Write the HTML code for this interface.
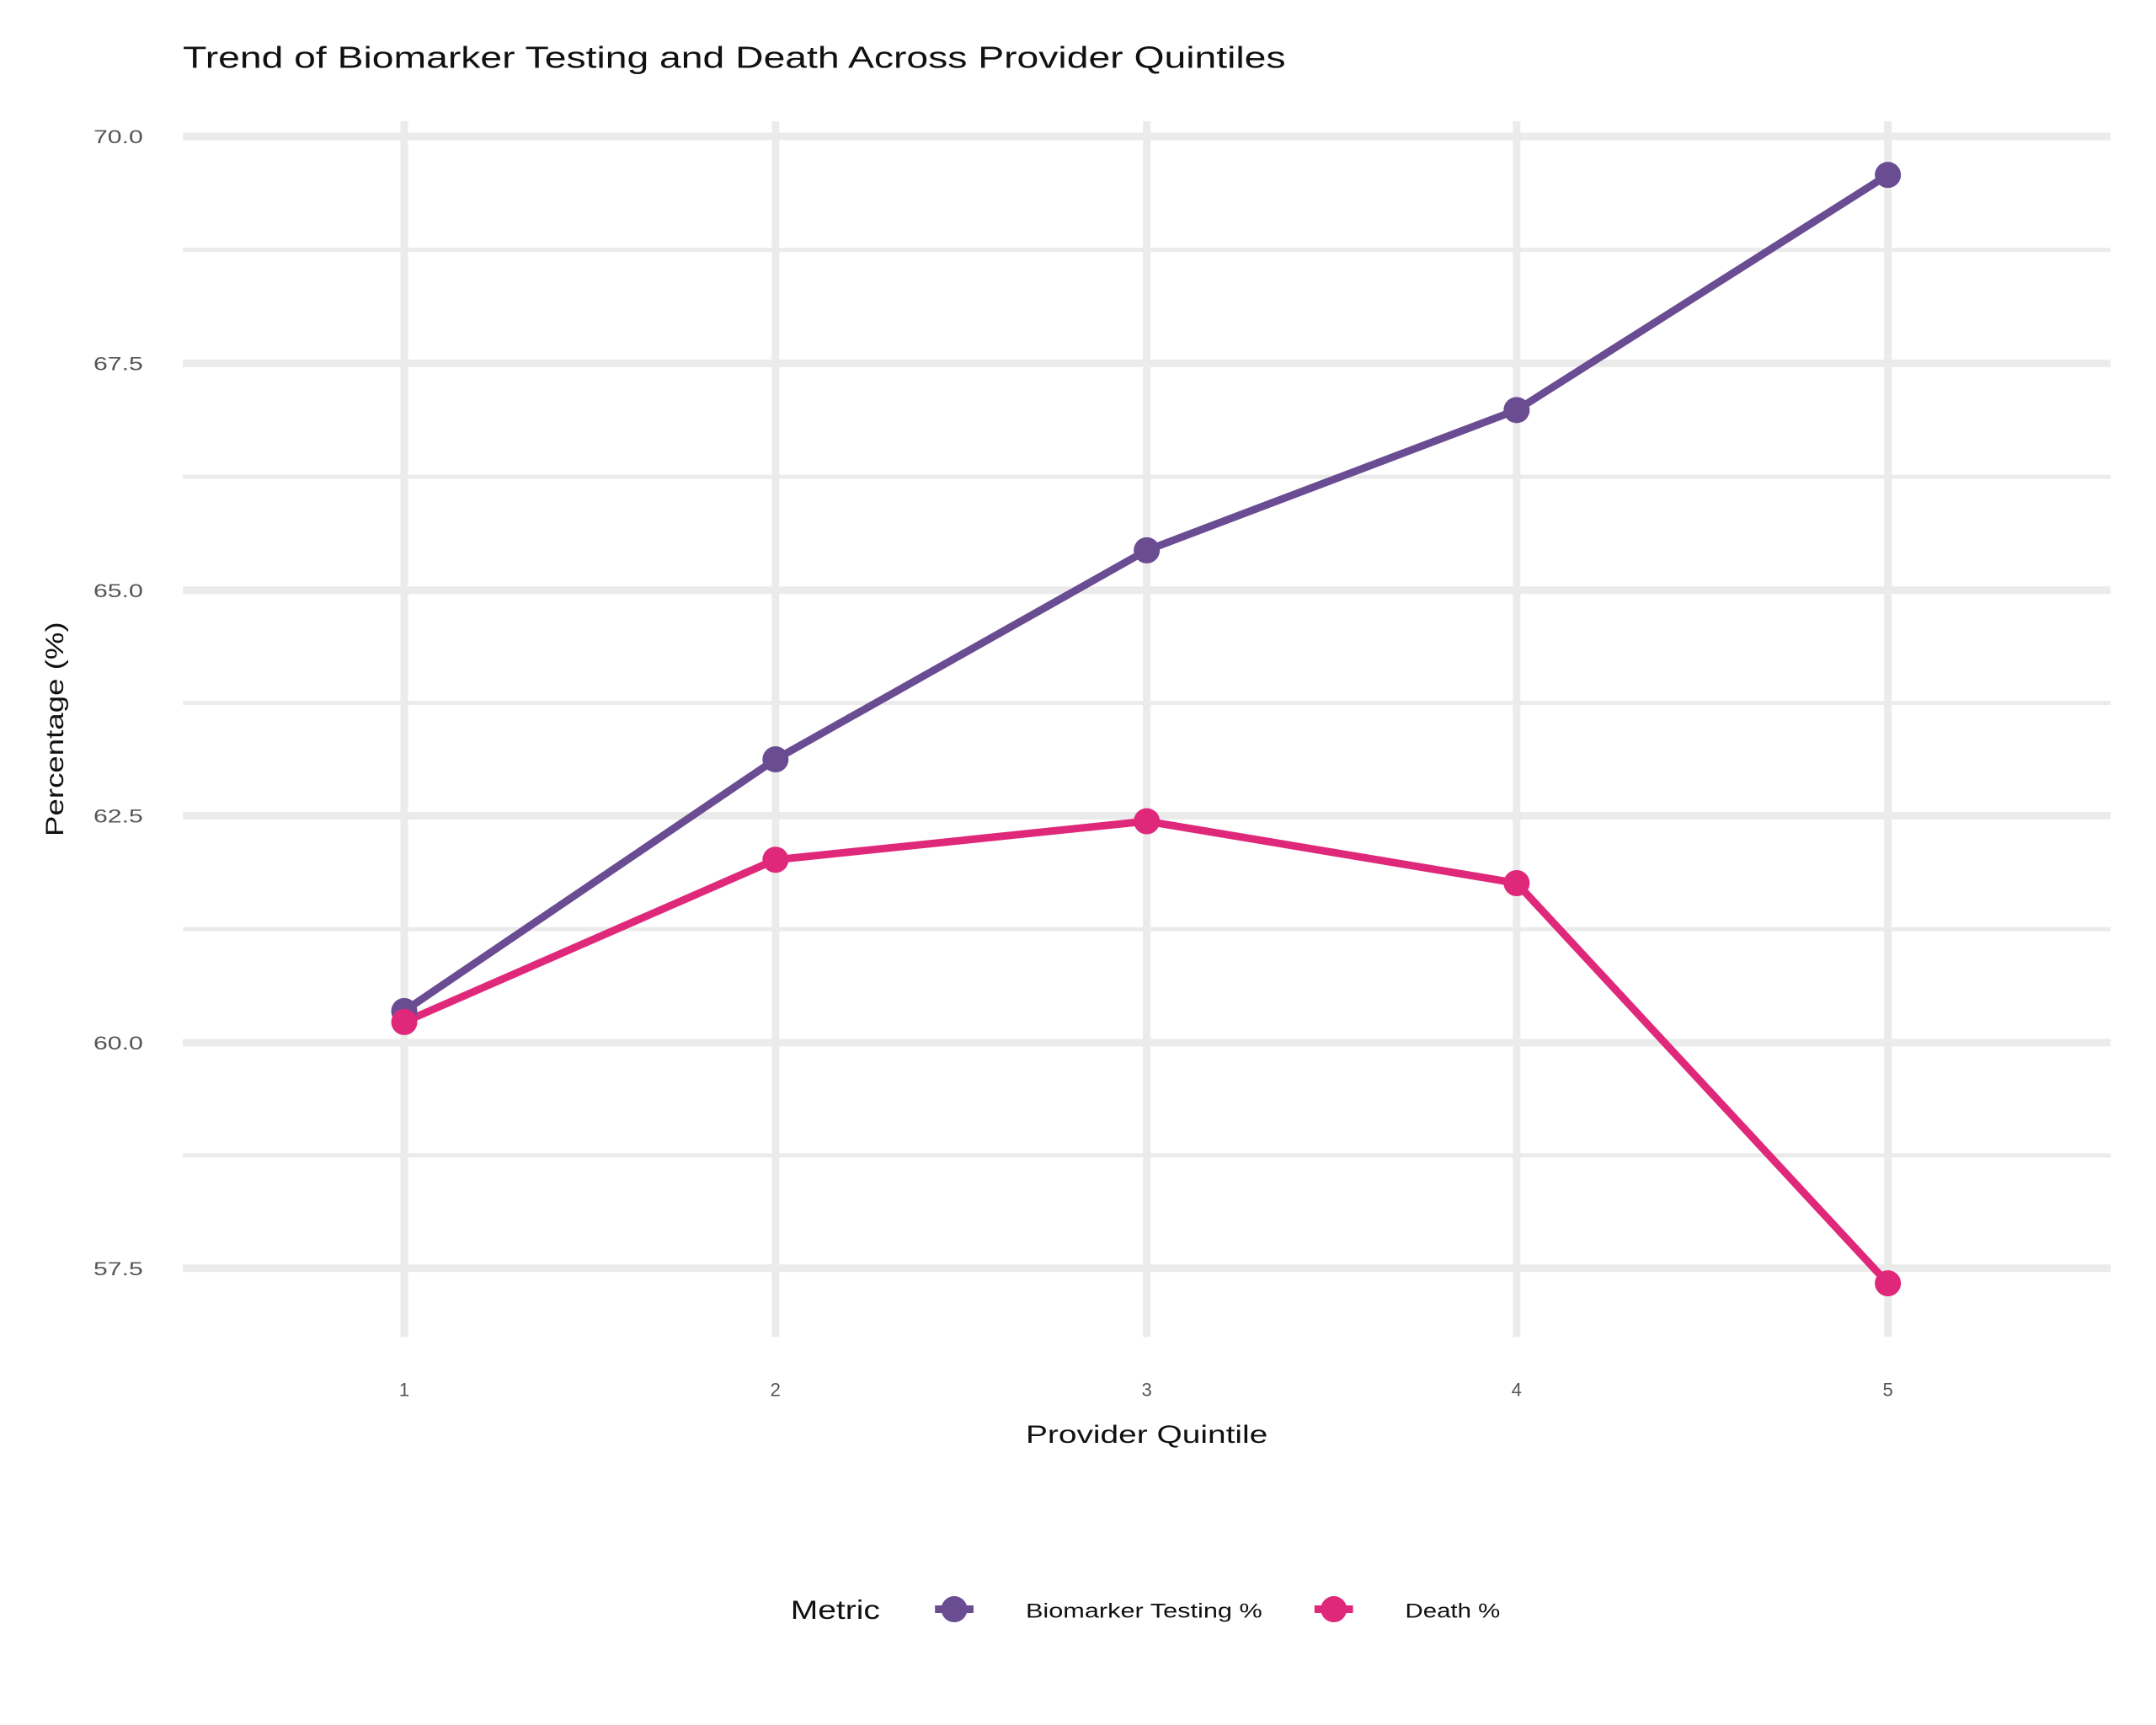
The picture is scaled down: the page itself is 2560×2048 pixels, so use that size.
<!DOCTYPE html>
<html><head><meta charset="utf-8"><style>html,body{margin:0;padding:0;background:#fff}svg{display:block}</style></head>
<body>
<svg width="2560" height="2048" viewBox="0 0 1568 1254" xmlns="http://www.w3.org/2000/svg" font-family="Liberation Sans, sans-serif">
<rect width="1568" height="1254" fill="#fff"/>
<text x="133" y="49" font-size="22" fill="#111" textLength="802" lengthAdjust="spacingAndGlyphs">Trend of Biomarker Testing and Death Across Provider Quintiles</text>
<g stroke="#ebebeb">
<g stroke-width="3">
<line x1="133" x2="1535" y1="181.5" y2="181.5"/>
<line x1="133" x2="1535" y1="346.5" y2="346.5"/>
<line x1="133" x2="1535" y1="511" y2="511"/>
<line x1="133" x2="1535" y1="675.5" y2="675.5"/>
<line x1="133" x2="1535" y1="840" y2="840"/>
</g>
<g stroke-width="5.5">
<line x1="133" x2="1535" y1="99" y2="99"/>
<line x1="133" x2="1535" y1="264" y2="264"/>
<line x1="133" x2="1535" y1="429" y2="429"/>
<line x1="133" x2="1535" y1="593" y2="593"/>
<line x1="133" x2="1535" y1="758" y2="758"/>
<line x1="133" x2="1535" y1="922" y2="922"/>
<line x1="294" x2="294" y1="88" y2="972"/>
<line x1="564" x2="564" y1="88" y2="972"/>
<line x1="834" x2="834" y1="88" y2="972"/>
<line x1="1103" x2="1103" y1="88" y2="972"/>
<line x1="1373" x2="1373" y1="88" y2="972"/>
</g>
</g>
<g font-size="13.5" fill="#555" text-anchor="end">
<text x="104" y="104" textLength="36" lengthAdjust="spacingAndGlyphs">70.0</text>
<text x="104" y="269" textLength="36" lengthAdjust="spacingAndGlyphs">67.5</text>
<text x="104" y="434" textLength="36" lengthAdjust="spacingAndGlyphs">65.0</text>
<text x="104" y="598" textLength="36" lengthAdjust="spacingAndGlyphs">62.5</text>
<text x="104" y="763" textLength="36" lengthAdjust="spacingAndGlyphs">60.0</text>
<text x="104" y="927" textLength="36" lengthAdjust="spacingAndGlyphs">57.5</text>
</g>
<g font-size="13.5" fill="#555" text-anchor="middle">
<text x="294" y="1015">1</text>
<text x="564" y="1015">2</text>
<text x="834" y="1015">3</text>
<text x="1103" y="1015">4</text>
<text x="1373" y="1015">5</text>
</g>
<text x="746" y="1049" font-size="18" fill="#111" textLength="176" lengthAdjust="spacingAndGlyphs">Provider Quintile</text>
<text transform="translate(46,608) rotate(-90)" font-size="18" fill="#111" textLength="156" lengthAdjust="spacingAndGlyphs">Percentage (%)</text>
<polyline points="294,735 564,552 834,400 1103,298 1373,127" fill="none" stroke="#6a4c93" stroke-width="5.5" stroke-linejoin="round"/>
<polyline points="294,743 564,625 834,597 1103,642 1373,933" fill="none" stroke="#e0287a" stroke-width="5.5" stroke-linejoin="round"/>
<g fill="#6a4c93">
<circle cx="294" cy="735" r="9.5"/><circle cx="564" cy="552" r="9.5"/><circle cx="834" cy="400" r="9.5"/><circle cx="1103" cy="298" r="9.5"/><circle cx="1373" cy="127" r="9.5"/>
</g>
<g fill="#e0287a">
<circle cx="294" cy="743" r="9.5"/><circle cx="564" cy="625" r="9.5"/><circle cx="834" cy="597" r="9.5"/><circle cx="1103" cy="642" r="9.5"/><circle cx="1373" cy="933" r="9.5"/>
</g>
<text x="575" y="1177" font-size="19" fill="#111" textLength="65" lengthAdjust="spacingAndGlyphs">Metric</text>
<line x1="680" x2="708" y1="1170" y2="1170" stroke="#6a4c93" stroke-width="5.5"/>
<circle cx="694" cy="1170" r="9.5" fill="#6a4c93"/>
<text x="746" y="1176" font-size="15" fill="#111" textLength="172" lengthAdjust="spacingAndGlyphs">Biomarker Testing %</text>
<line x1="956" x2="984" y1="1170" y2="1170" stroke="#e0287a" stroke-width="5.5"/>
<circle cx="970" cy="1170" r="9.5" fill="#e0287a"/>
<text x="1022" y="1176" font-size="15" fill="#111" textLength="69" lengthAdjust="spacingAndGlyphs">Death %</text>
</svg>
</body></html>
